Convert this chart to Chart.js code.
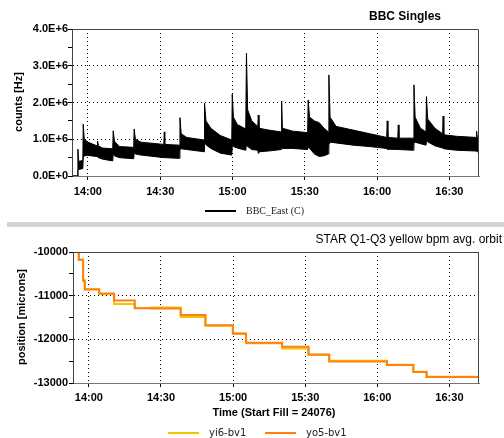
<!DOCTYPE html>
<html>
<head>
<meta charset="utf-8">
<script src="https://cdn.jsdelivr.net/npm/chart.js@4.4.0/dist/chart.umd.min.js"></script>
<style>
  html, body { margin: 0; padding: 0; background: #fff; }
  #wrap { position: relative; width: 504px; height: 438px; overflow: hidden; }
  #c1 { position: absolute; left: 0; top: 0; }
  #c2 { position: absolute; left: 0; top: 228px; }
  #sep { position: absolute; left: 7px; top: 222px; width: 497px; height: 5px; background: #d4d4d4; }
</style>
</head>
<body>
<div id="wrap">
  <canvas id="c1" width="504" height="220" style="width:504px;height:220px"></canvas>
  <div id="sep"></div>
  <canvas id="c2" width="504" height="210" style="width:504px;height:210px"></canvas>
</div>
<script>
// time axis, minutes after midnight
var timeTicks = [840, 870, 900, 930, 960, 990];
var timeLabels = ['14:00', '14:30', '15:00', '15:30', '16:00', '16:30'];

// BBC singles, in units of 1E+6 Hz
var bbcYTicks = [0, 1, 2, 3, 4];
var bbcYLabels = ['0.0E+0', '1.0E+6', '2.0E+6', '3.0E+6', '4.0E+6'];

var bbcTime = [833.4, 835.7, 835.85, 836.2, 837.9, 838.05, 838.5, 840, 843.8, 844.0, 844.4, 846,
  850.3, 850.5, 851, 853, 859.0, 859.2, 859.7, 862, 871.5, 871.7, 871.9, 878.0, 878.2, 878.7, 881,
  888.2, 888.4, 889, 891, 895, 899.7, 899.9, 900.4, 902, 905.5, 905.8, 906.3, 908, 910.5, 910.7, 911,
  915, 920.2, 920.4, 920.7, 925, 931.2, 931.4, 932, 934, 936, 938, 939.8, 940.0, 940.5, 943, 950,
  957, 964.0, 964.2, 964.5, 968.6, 968.8, 969.1, 975.1, 975.3, 975.8, 978, 980.3, 980.5, 981, 984,
  987.2, 987.4, 987.7, 993, 1001.1, 1001.3, 1001.6, 1002.3];
var bbcHigh = [0, 0, 0.73, 0.40, 0.42, 1.41, 1.0, 0.92, 0.82, 0.95, 0.82, 0.76,
  0.74, 1.23, 0.95, 0.80, 0.78, 1.28, 1.0, 0.92, 0.86, 1.2, 0.86, 0.84, 1.59, 1.15, 1.05,
  0.98, 1.98, 1.5, 1.3, 1.1, 0.98, 2.23, 1.6, 1.4, 1.28, 3.34, 1.8, 1.5, 1.35, 1.66, 1.3,
  1.25, 1.2, 2.04, 1.3, 1.22, 1.18, 2.07, 1.6, 1.5, 1.45, 1.3, 1.2, 2.75, 1.6, 1.35, 1.25,
  1.15, 1.05, 1.5, 1.05, 1.03, 1.39, 1.03, 1.03, 2.48, 1.6, 1.3, 1.2, 2.16, 1.55, 1.3,
  1.15, 1.63, 1.12, 1.08, 1.05, 1.22, 1.05, 1.05];
var bbcLow = [0, 0, 0.15, 0.18, 0.2, 0.5, 0.55, 0.56, 0.53, 0.52, 0.5, 0.46,
  0.41, 0.6, 0.55, 0.5, 0.47, 0.62, 0.6, 0.57, 0.5, 0.5, 0.5, 0.48, 0.72, 0.74, 0.72,
  0.66, 0.9, 0.85, 0.75, 0.62, 0.57, 0.8, 0.8, 0.76, 0.7, 0.85, 0.8, 0.72, 0.7, 0.62, 0.66,
  0.68, 0.72, 0.8, 0.75, 0.75, 0.72, 0.8, 0.75, 0.6, 0.53, 0.55, 0.6, 0.85, 0.92, 0.9, 0.84,
  0.8, 0.75, 0.72, 0.73, 0.72, 0.72, 0.72, 0.7, 0.9, 0.92, 0.88, 0.84, 0.95, 0.93, 0.82,
  0.76, 0.76, 0.74, 0.7, 0.68, 0.68, 0.66, 0.66];

// STAR Q1-Q3 yellow bpm avg. orbit, microns
var bpmYTicks = [-13000, -12000, -11000, -10000];
var bpmTime = [835.3, 835.8, 837.6, 838.3, 844.3, 850.5, 859.1, 866, 878.2, 888.5, 899.9, 905.4,
  920.4, 931.4, 940, 964, 975, 980.5, 1002.3];
var yi6 = [-9800, -10180, -10650, -10850, -10960, -11190, -11285, -11270, -11490, -11690, -11860, -12090,
  -12210, -12360, -12490, -12580, -12740, -12855, -12880];
var yo5 = [-9800, -10180, -10650, -10860, -10950, -11110, -11290, -11295, -11440, -11680, -11870, -12080,
  -12170, -12350, -12510, -12590, -12750, -12860, -12885];

function pts(xs, ys) {
  return xs.map(function (x, i) { return { x: x, y: ys[i] }; });
}

var boldFont = 'bold 11px "Liberation Sans", Arial, sans-serif';

function timeAxis(h, pad) {
  return {
    type: 'linear', min: 833.4, max: 1002.3,
    afterBuildTicks: function (s) { s.ticks = timeTicks.map(function (v) { return { value: v }; }); },
    afterFit: function (s) { s.height = h; },
    ticks: {
      autoSkip: false, maxRotation: 0, padding: pad, color: '#000',
      font: { family: '"Liberation Sans", Arial, sans-serif', size: 11, weight: 'bold' },
      callback: function (v) { var i = timeTicks.indexOf(v); return i < 0 ? '' : timeLabels[i]; }
    },
    grid: { color: '#000', lineWidth: 1, tickLength: 4, tickColor: '#000' },
    border: { color: '#777', width: 1, dash: [1, 3] }
  };
}

function deco(o) {
  return {
    id: 'deco',
    afterDraw: function (chart) {
      var ctx = chart.ctx, a = chart.chartArea;
      ctx.save();
      // frame top / right / left
      ctx.strokeStyle = '#444';
      ctx.lineWidth = 1;
      ctx.beginPath();
      ctx.moveTo(a.left + 0.5, a.bottom);
      ctx.lineTo(a.left + 0.5, a.top + 0.5);
      ctx.lineTo(a.right - 0.5, a.top + 0.5);
      ctx.lineTo(a.right - 0.5, a.bottom);
      ctx.stroke();
      // title
      ctx.fillStyle = '#000';
      ctx.font = o.titleFont;
      ctx.textAlign = 'right';
      ctx.textBaseline = 'middle';
      ctx.fillText(o.title, o.titleX, o.titleY);
      // y title
      ctx.save();
      ctx.translate(o.yTitleX, o.yTitleY);
      ctx.rotate(-Math.PI / 2);
      ctx.textAlign = 'center';
      ctx.font = boldFont;
      ctx.fillText(o.yTitle, 0, 0);
      ctx.restore();
      // x title
      if (o.xTitle) {
        ctx.textAlign = 'center';
        ctx.font = boldFont;
        ctx.fillText(o.xTitle, o.xTitleX, o.xTitleY);
      }
      // legend
      o.legend.forEach(function (l) {
        ctx.strokeStyle = l.color;
        ctx.lineWidth = 2;
        ctx.beginPath();
        ctx.moveTo(l.x, l.y);
        ctx.lineTo(l.x + 31, l.y);
        ctx.stroke();
        ctx.fillStyle = '#222';
        ctx.font = l.font;
        ctx.textAlign = 'left';
        ctx.fillText(l.text, l.x + 41, l.y);
      });
      ctx.restore();
    }
  };
}

new Chart(document.getElementById('c1'), {
  type: 'line',
  data: {
    datasets: [
      { label: 'BBC_East (C)', data: pts(bbcTime, bbcHigh), borderColor: '#000', backgroundColor: '#000',
        borderWidth: 1, pointRadius: 0, fill: '+1', tension: 0 },
      { label: 'low', data: pts(bbcTime, bbcLow), borderColor: '#000', borderWidth: 1, pointRadius: 0,
        fill: false, tension: 0 }
    ]
  },
  options: {
    responsive: false, animation: false,
    layout: { padding: { top: 29, right: 25, left: 0, bottom: 0 } },
    plugins: { legend: { display: false }, tooltip: { enabled: false } },
    scales: {
      x: timeAxis(44, 5),
      y: {
        min: 0, max: 4, afterFit: function (s) { s.width = 72; },
        ticks: {
          stepSize: 0.5, padding: 0, color: '#000',
          font: { family: '"Liberation Sans", Arial, sans-serif', size: 11, weight: 'bold' },
          callback: function (v) { var i = bbcYTicks.indexOf(v); return i < 0 ? '' : bbcYLabels[i]; }
        },
        grid: {
          lineWidth: 1, tickLength: 4, tickColor: '#000',
          color: function (c) { return bbcYTicks.indexOf(c.tick.value) < 0 ? 'rgba(0,0,0,0)' : '#000'; }
        },
        border: { color: '#000', width: 1, dash: [1, 3] }
      }
    }
  },
  plugins: [deco({
    title: 'BBC Singles', titleFont: 'bold 12px "Liberation Sans", Arial, sans-serif', titleX: 441, titleY: 17,
    yTitle: 'counts [Hz]', yTitleX: 19, yTitleY: 102,
    legend: [{ text: 'BBC_East (C)', color: '#000', x: 205, y: 211, font: '10px "Liberation Serif", serif' }]
  })]
});

new Chart(document.getElementById('c2'), {
  type: 'line',
  data: {
    datasets: [
      { label: 'yi6-bv1', data: pts(bpmTime, yi6), borderColor: '#f5c400', borderWidth: 2, pointRadius: 0,
        stepped: true, fill: false, order: 1 },
      { label: 'yo5-bv1', data: pts(bpmTime, yo5), borderColor: '#ff7f10', borderWidth: 2, pointRadius: 0,
        stepped: true, fill: false, order: 0 }
    ]
  },
  options: {
    responsive: false, animation: false,
    layout: { padding: { top: 24, right: 25, left: 0, bottom: 0 } },
    plugins: { legend: { display: false }, tooltip: { enabled: false } },
    scales: {
      x: timeAxis(55, 4),
      y: {
        min: -13000, max: -10000, afterFit: function (s) { s.width = 73; },
        ticks: {
          stepSize: 500, padding: 1, color: '#000',
          font: { family: '"Liberation Sans", Arial, sans-serif', size: 11, weight: 'bold' },
          callback: function (v) { return bpmYTicks.indexOf(v) < 0 ? '' : String(v); }
        },
        grid: {
          lineWidth: 1, tickLength: 4, tickColor: '#000',
          color: function (c) { return bpmYTicks.indexOf(c.tick.value) < 0 ? 'rgba(0,0,0,0)' : '#000'; }
        },
        border: { color: '#000', width: 1, dash: [1, 3] }
      }
    }
  },
  plugins: [deco({
    title: 'STAR Q1-Q3 yellow bpm avg. orbit', titleFont: '12px "Liberation Sans", Arial, sans-serif',
    titleX: 502, titleY: 12,
    yTitle: 'position [microns]', yTitleX: 22, yTitleY: 89,
    xTitle: 'Time (Start Fill = 24076)', xTitleX: 274, xTitleY: 185,
    legend: [
      { text: 'yi6-bv1', color: '#f5c400', x: 168, y: 205, font: '10px "DejaVu Sans", sans-serif' },
      { text: 'yo5-bv1', color: '#ff7f10', x: 265, y: 205, font: '10px "DejaVu Sans", sans-serif' }
    ]
  })]
});
</script>
</body>
</html>
